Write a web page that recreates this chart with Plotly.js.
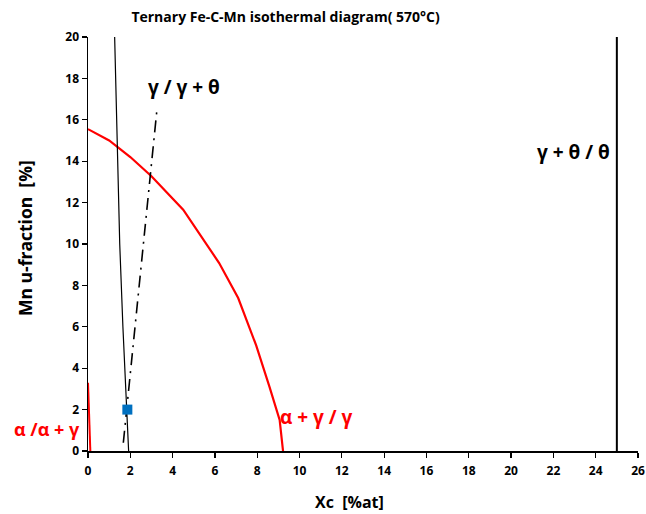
<!DOCTYPE html>
<html><head><meta charset="utf-8">
<script src="https://cdn.plot.ly/plotly-3.0.1.min.js"></script>
<style>html,body{margin:0;padding:0;background:#fff}#chart{width:646px;height:514px}</style>
</head><body><div id="chart"></div>
<script>
// alpha+gamma / gamma boundary (red)
const redX = [0, 1, 2, 3, 4.5, 6.2, 7.1, 7.95, 8.58, 9.06, 9.22];
const redY = [15.55, 15.0, 14.2, 13.27, 11.66, 9.08, 7.39, 5.1, 3.1, 1.5, 0];
// alpha / alpha+gamma boundary (red, short)
const redSmallX = [0, 0.11];
const redSmallY = [3.3, 0];
// thin black line
const blackX = [1.26, 1.35, 1.5, 1.65, 1.81, 1.92];
const blackY = [20, 16, 10, 6, 2, 0];
// gamma / gamma+theta (dash-dot)
const ddX = [1.67, 3.27];
const ddY = [0.4, 16.6];
// gamma+theta / theta vertical
const vX = [25, 25];
const vY = [0, 20];
// point
const ptX = [1.86];
const ptY = [2.0];
const xTicks = [0,2,4,6,8,10,12,14,16,18,20,22,24,26];
const yTicks = [0,2,4,6,8,10,12,14,16,18,20];

const F = "Open Sans, sans-serif";
const traces = [
  {x: redX, y: redY, mode: 'lines', line: {color: '#FF0000', width: 2.2}, hoverinfo:'none'},
  {x: redSmallX, y: redSmallY, mode: 'lines', line: {color: '#FF0000', width: 2}, hoverinfo:'none'},
  {x: blackX, y: blackY, mode: 'lines', line: {color: '#000', width: 1.2}, hoverinfo:'none'},
  {x: ddX, y: ddY, mode: 'lines', line: {color: '#000', width: 1.6, dash: '12px,6px,2px,6px'}, hoverinfo:'none'},
  {x: vX, y: vY, mode: 'lines', line: {color: '#000', width: 2}, hoverinfo:'none'},
  {x: ptX, y: ptY, mode: 'markers', marker: {symbol: 'square', size: 10, color: '#0070C0'}, hoverinfo:'none'}
];
const L = 88, R = 8, T = 37, B = 63, W = 646, H = 514;
const pw = W - L - R, ph = H - T - B;
const px = v => (v - L) / pw;
const py = v => (H - B - v) / ph;
const layout = {
  width: W, height: H,
  margin: {l: L, r: R, t: T, b: B},
  showlegend: false,
  paper_bgcolor: '#fff', plot_bgcolor: '#fff',
  font: {family: F, color: '#000'},
  title: {text: '<b>Ternary Fe-C-Mn isothermal diagram( 570°C)</b>', font: {size: 14, family: F, color: '#000'}, x: 0.442, xanchor: 'center', y: 0.967, yanchor: 'middle'},
  xaxis: {range: [0, 26], tickvals: xTicks, ticktext: xTicks.map(v => '<b>' + v + '</b>'),
    showgrid: false, zeroline: false, showline: true, linecolor: '#000', linewidth: 1.5,
    ticks: 'outside', ticklen: 5, tickwidth: 1.2, tickcolor: '#000', tickfont: {size: 12, family: F},
    ticklabelstandoff: 3, fixedrange: true},
  yaxis: {range: [0, 20], tickvals: yTicks, ticktext: yTicks.map(v => '<b>' + v + '</b>'),
    showgrid: false, zeroline: false, showline: true, linecolor: '#000', linewidth: 1.5,
    ticks: 'outside', ticklen: 5, tickwidth: 1.2, tickcolor: '#000', tickfont: {size: 12, family: F},
    fixedrange: true},
  annotations: [
    {x: 4.55, y: 17.6, xref: 'x', yref: 'y', xanchor: 'center', yanchor: 'middle', text: '<b>γ / γ + θ</b>', showarrow: false, font: {size: 19, family: F, color: '#000'}},
    {x: 22.93, y: 14.45, xref: 'x', yref: 'y', xanchor: 'center', yanchor: 'middle', text: '<b>γ + θ / θ</b>', showarrow: false, font: {size: 19, family: F, color: '#000'}},
    {x: px(47), y: py(429), xref: 'paper', yref: 'paper', xanchor: 'center', yanchor: 'middle', text: '<b>α /α + γ</b>', showarrow: false, font: {size: 18, family: F, color: '#FF0000'}},
    {x: 10.82, y: 1.65, xref: 'x', yref: 'y', xanchor: 'center', yanchor: 'middle', text: '<b>α + γ / γ</b>', showarrow: false, font: {size: 19, family: F, color: '#FF0000'}},
    {x: px(349), y: py(502), xref: 'paper', yref: 'paper', xanchor: 'center', yanchor: 'middle', text: '<b>Xc  [%at]</b>', showarrow: false, font: {size: 16, family: F, color: '#000'}},
    {x: px(25), y: py(238), xref: 'paper', yref: 'paper', xanchor: 'center', yanchor: 'middle', textangle: -90, text: '<b>Mn u-fraction  [%]</b>', showarrow: false, font: {size: 17.5, family: F, color: '#000'}}
  ]
};
Plotly.newPlot('chart', traces, layout, {displayModeBar: false, staticPlot: true});
</script></body></html>
